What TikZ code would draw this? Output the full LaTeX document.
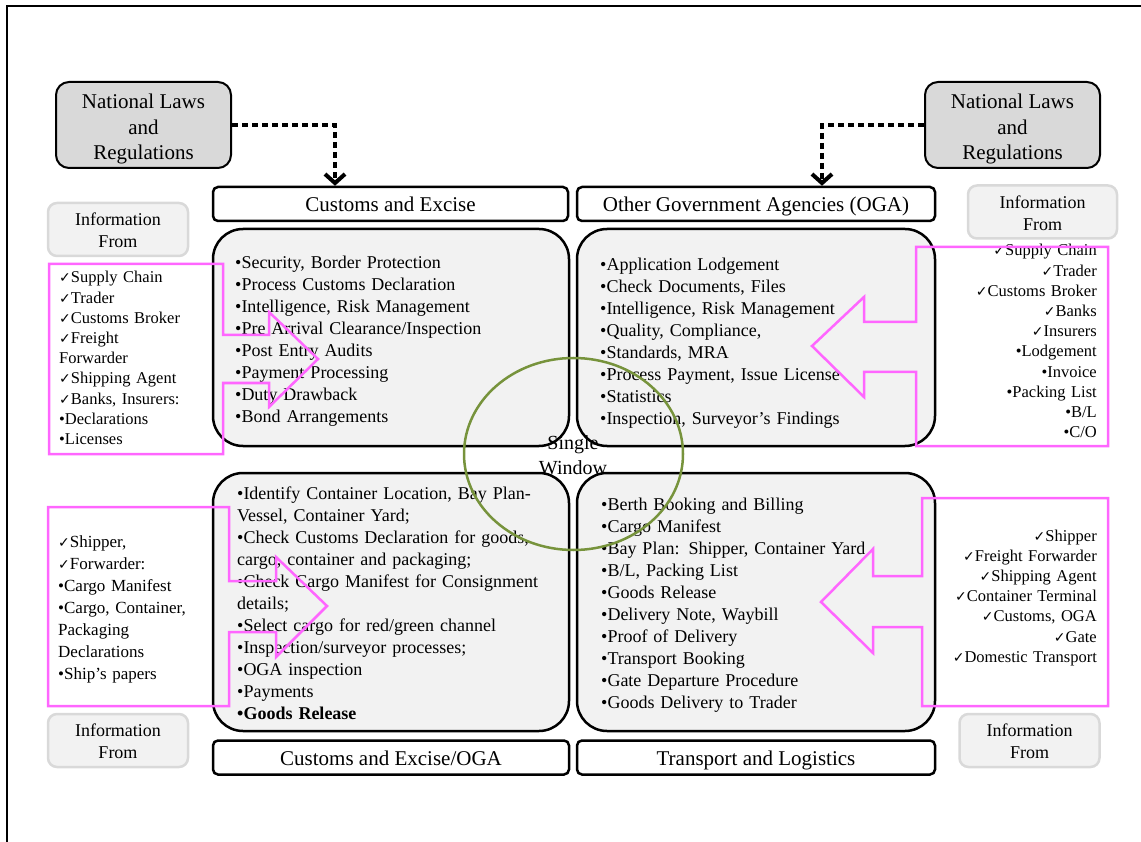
\documentclass[tikz,border=0pt]{standalone}
\usepackage{fontspec}
\setmainfont{Liberation Serif}
\newfontfamily\symfont{DejaVu Sans}
\usetikzlibrary{arrows.meta,shapes.geometric}
\definecolor{nlgray}{HTML}{D9D9D9}
\definecolor{boxgray}{HTML}{F2F2F2}
\definecolor{pinkline}{HTML}{FF66FF}
\definecolor{swgreen}{HTML}{77933C}
\newcommand{\ck}{{\symfont\fontsize{14}{12}\selectfont ✓}}
\begin{document}
\begin{tikzpicture}[x=1pt,y=-1pt,
  nlbox/.style={draw=black, line width=2pt, fill=nlgray, rounded corners=13pt, minimum width=175pt, minimum height=86pt, align=center, font=\fontsize{21}{25.7}\selectfont, inner sep=0pt},
  hdrbox/.style={draw=black, line width=2.5pt, fill=white, rounded corners=5pt, inner sep=0pt, minimum height=34pt, text height=16pt, text depth=0pt, font=\fontsize{21}{25}\selectfont},
  quadbox/.style={draw=black, line width=2.5pt, fill=boxgray, rounded corners=30pt, inner sep=0pt},
  infobox/.style={draw=nlgray, line width=2.5pt, fill=boxgray, rounded corners=9pt, align=center, font=\fontsize{18}{22}\selectfont, inner sep=0pt, minimum height=53pt},
  qtext/.style={anchor=base west, inner sep=0pt, text width=330pt, align=left, font=\fontsize{18}{22}\selectfont},
  ltext/.style={anchor=base west, inner sep=0pt, text width=180pt, align=left},
  rtext/.style={anchor=base east, inner sep=0pt, text width=190pt, align=right},
  pinkarrow/.style={draw=pinkline, line width=2.5pt, line join=miter},
  dotarrow/.style={draw=black, line width=4pt, dash pattern=on 6pt off 4pt, -{Straight Barb[length=9pt,width=20pt]}},
]
\useasboundingbox (0,0) rectangle (1141,842);
\draw[line width=1.5pt] (7,842) -- (7,6) -- (1141,6);

% National laws
\node[nlbox] (nlL) at (143.5,125) {\rule{0pt}{23pt}National Laws\\and\\Regulations};
\node[nlbox] (nlR) at (1012.5,125) {\rule{0pt}{23pt}National Laws\\and\\Regulations};

% headers
\node[hdrbox, minimum width=355pt] (hCE) at (390.5,204) {Customs and Excise};
\node[hdrbox, minimum width=358pt] (hOGA) at (756,204) {Other Government Agencies (OGA)};
\node[hdrbox, minimum width=356pt] (hCEO) at (391,757.5) {Customs and Excise/OGA};
\node[hdrbox, minimum width=358pt] (hTL) at (756,757.5) {Transport and Logistics};

% dotted arrows
\coordinate (cL) at (335,125);
\coordinate (cR) at (822,125);
\draw[dotarrow] (nlL.east) -- (cL) -- (cL |- hCE.north);
\draw[dotarrow] (nlR.west) -- (cR) -- (cR |- hOGA.north);

% quadrants
\node[quadbox, minimum width=356pt, minimum height=217pt] (tl) at (391,337.5) {};
\node[quadbox, minimum width=358pt, minimum height=217pt] (tr) at (756,337.5) {};
\node[quadbox, minimum width=356pt, minimum height=258pt] (bl) at (391,602) {};
\node[quadbox, minimum width=358pt, minimum height=258pt] (br) at (756,602) {};

% info boxes
\node[infobox, minimum width=140pt] (iTL) at (118,229.5) {\rule{0pt}{14pt}Information\\From};
\node[infobox, minimum width=149pt] (iTR) at (1042.5,212) {\rule{0pt}{15pt}Information\\From};
\node[infobox, minimum width=140pt] (iBL) at (118,740.5) {\rule{0pt}{14pt}Information\\From};
\node[infobox, minimum width=140pt] (iBR) at (1029.5,740.5) {\rule{0pt}{14pt}Information\\From};

% quadrant texts
\node[qtext] (tlt) at (235,268.5) {•Security, Border Protection\\
•Process Customs Declaration\\
•Intelligence, Risk Management\\
•Pre Arrival Clearance/Inspection\\
•Post Entry Audits\\
•Payment Processing\\
•Duty Drawback\\
•Bond Arrangements};

\node[qtext] (trt) at (600,270.5) {•Application Lodgement\\
•Check Documents, Files\\
•Intelligence, Risk Management\\
•Quality, Compliance,\\
•Standards, MRA\\
•Process Payment, Issue License\\
•Statistics\\
•Inspection, Surveyor’s Findings};

\node[qtext] (blt) at (237,499.5) {\makebox[293pt][s]{•Identify Container Location, Bay Plan-}\\
Vessel, Container Yard;\\
\makebox[293pt][s]{•Check Customs Declaration for goods,}\\
cargo, container and packaging;\\
•Check Cargo Manifest for Consignment\\
details;\\
•Select cargo for red/green channel\\
•Inspection/surveyor processes;\\
•OGA inspection\\
•Payments\\
\textbf{•Goods Release}};

\node[qtext] (brt) at (601,510.5) {•Berth Booking and Billing\\
•Cargo Manifest\\
•Bay Plan: Shipper, Container Yard\\
•B/L, Packing List\\
•Goods Release\\
•Delivery Note, Waybill\\
•Proof of Delivery\\
•Transport Booking\\
•Gate Departure Procedure\\
•Goods Delivery to Trader};

% side lists
\node[ltext, font=\fontsize{16.5}{20.2}\selectfont] (lTL) at (59,283) {\ck Supply Chain\\
\ck Trader\\
\ck Customs Broker\\
\ck Freight\\
Forwarder\\
\ck Shipping Agent\\
\ck Banks, Insurers:\\
•Declarations\\
•Licenses};

\node[rtext, font=\fontsize{16.5}{20.2}\selectfont] (lTR) at (1097,256) {\ck Supply Chain\\
\ck Trader\\
\ck Customs Broker\\
\ck Banks\\
\ck Insurers\\
•Lodgement\\
•Invoice\\
•Packing List\\
•B/L\\
•C/O};

\node[ltext, font=\fontsize{17}{22}\selectfont] (lBL) at (58,547) {\ck Shipper,\\
\ck Forwarder:\\
•Cargo Manifest\\
•Cargo, Container,\\
Packaging\\
Declarations\\
•Ship’s papers};

\node[rtext, font=\fontsize{16.5}{20.2}\selectfont] (lBR) at (1097,541) {\ck Shipper\\
\ck Freight Forwarder\\
\ck Shipping Agent\\
\ck Container Terminal\\
\ck Customs, OGA\\
\ck Gate\\
\ck Domestic Transport};

% pink block arrows
\draw[pinkarrow] (49,264) -- (223,264) -- (223,335) -- (269,335) -- (269,312) -- (318,359) -- (269,407) -- (269,383) -- (223,383) -- (223,454) -- (49,454) -- cycle;
\draw[pinkarrow] (1108,247) -- (916,247) -- (916,322) -- (864,322) -- (864,297) -- (812,346) -- (864,397) -- (864,372) -- (916,372) -- (916,446) -- (1108,446) -- cycle;
\draw[pinkarrow] (48,507) -- (229,507) -- (229,581) -- (276,581) -- (276,557) -- (327,606) -- (276,657) -- (276,632) -- (229,632) -- (229,706) -- (48,706) -- cycle;
\draw[pinkarrow] (1108,498) -- (922,498) -- (922,576) -- (873,576) -- (873,549) -- (821,602) -- (873,653) -- (873,627) -- (922,627) -- (922,706) -- (1108,706) -- cycle;

% single window
\node[align=center, inner sep=0pt, font=\fontsize{20}{25.5}\selectfont] (sw) at (573,455) {Single\\Window};
\node[draw=swgreen, line width=2.5pt, ellipse, minimum width=219pt, minimum height=192pt, inner sep=0pt] (swc) at (573.5,454) {};
\end{tikzpicture}
\end{document}
